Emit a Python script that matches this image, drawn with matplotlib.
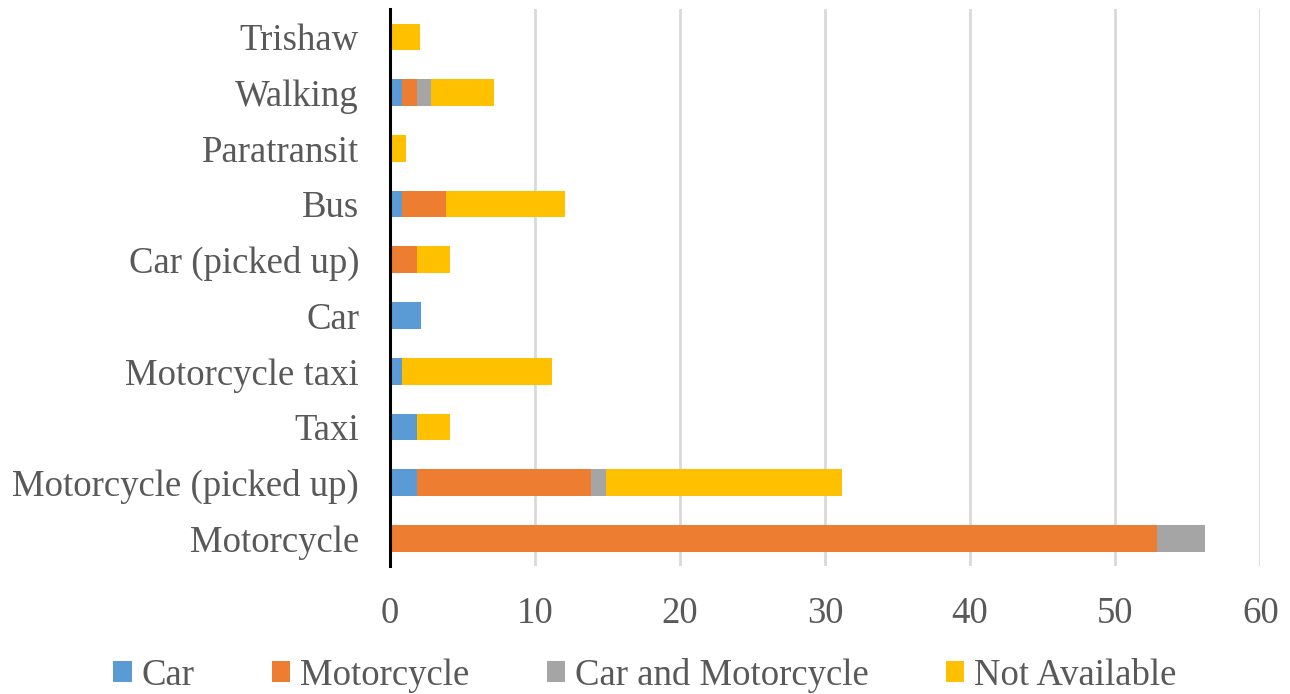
import matplotlib.pyplot as plt
import numpy as np

plt.rcParams['font.family'] = ['Liberation Serif', 'DejaVu Serif']

modes = ['Motorcycle', 'Motorcycle (picked up)', 'Taxi', 'Motorcycle taxi', 'Car',
         'Car (picked up)', 'Bus', 'Paratransit', 'Walking', 'Trishaw']
series = ['Car', 'Motorcycle', 'Car and Motorcycle', 'Not Available']
car = [0, 1.9, 1.9, 0.87, 2.16, 0, 0.87, 0, 0.85, 0]
motorcycle = [52.9, 12.0, 0, 0, 0, 1.9, 3.0, 0, 1.03, 0]
car_moto = [3.3, 1.0, 0, 0, 0, 0, 0, 0, 1.0, 0]
not_avail = [0, 16.3, 2.25, 10.3, 0, 2.25, 8.25, 1.15, 4.3, 2.1]
colors = ['#5b9bd5', '#ed7d31', '#a5a5a5', '#ffc000']

fig = plt.figure(figsize=(12.9, 6.94), dpi=100)
ax = fig.add_axes([0.302, 0.184, 0.675, 0.803])

y = np.arange(len(modes))
left = np.zeros(len(modes))
for name, vals, c in zip(series, [car, motorcycle, car_moto, not_avail], colors):
    ax.barh(y, vals, left=left, height=0.48, color=c, label=name)
    left += np.array(vals)

ax.set_xlim(0, 60)
ax.set_ylim(-0.5, len(modes) - 0.5)
ax.set_xticks(range(0, 61, 10))
ax.set_yticks(y)
ax.set_yticklabels(modes)
ax.tick_params(axis='both', length=0, labelsize=26.5, colors='#595959')
ax.tick_params(axis='x', pad=22)
ax.tick_params(axis='y', pad=22)
ax.xaxis.grid(True, color='#d9d9d9', linewidth=2)
ax.set_axisbelow(True)
for s in ['top', 'right', 'bottom']:
    ax.spines[s].set_visible(False)
ax.spines['left'].set_linewidth(2.2)
ax.spines['left'].set_color('black')
ax.spines['left'].set_zorder(5)

fig.legend(loc='center', bbox_to_anchor=(0.5, 0.027), ncol=4, frameon=False,
           fontsize=26.5, labelcolor='#595959', handlelength=0.5, handleheight=0.5,
           handletextpad=0.27, columnspacing=2.1, borderpad=0)

fig.savefig('out.png', dpi=100)
